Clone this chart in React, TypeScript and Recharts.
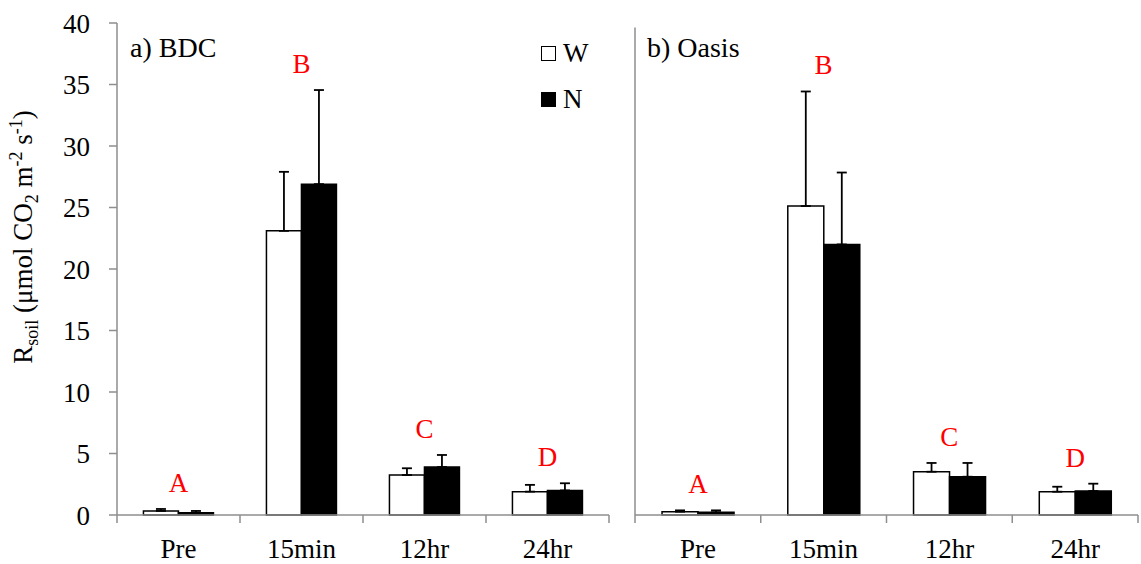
import { BarChart, Bar, XAxis, YAxis, ErrorBar, ReferenceDot, Legend, Label } from 'recharts';

const FONT = '"Liberation Serif", Tinos, "Times New Roman", "DejaVu Serif", serif';
const AXIS = '#8e8e8e';
const RED = '#ff0000';

const categories = ['Pre', '15min', '12hr', '24hr'];
const letters = ['A', 'B', 'C', 'D'];
const seriesNames = ['W', 'N'];
const yTicks = [0, 5, 10, 15, 20, 25, 30, 35, 40];

// a) BDC
const bdcW = [0.33, 23.1, 3.25, 1.9];
const bdcWErr = [0.16, 4.8, 0.55, 0.55];
const bdcN = [0.19, 26.9, 3.9, 2.0];
const bdcNErr = [0.14, 7.65, 0.98, 0.58];

// b) Oasis
const oasisW = [0.27, 25.35, 3.55, 1.91];
const oasisWErr = [0.11, 9.4, 0.72, 0.41];
const oasisN = [0.22, 22.2, 3.14, 1.97];
const oasisNErr = [0.16, 5.9, 1.13, 0.6];

const buildRows = (w: number[], wErr: number[], n: number[], nErr: number[]) =>
  categories.map((cat, i) => ({
    cat,
    letter: letters[i],
    W: w[i],
    N: n[i],
    wErr: [0, wErr[i]],
    nErr: [0, nErr[i]],
    top: Math.max(w[i] + wErr[i], n[i] + nErr[i]),
  }));

const bdcRows = buildRows(bdcW, bdcWErr, bdcN, bdcNErr);
const oasisRows = buildRows(oasisW, oasisWErr, oasisN, oasisNErr);

// category label + tick marks between categories (Excel style)
const CatTick = (props: any) => {
  const { x, y, payload, index, visibleTicksCount } = props;
  const half = payload.offset ?? 0;
  return (
    <g>
      <line x1={x - half} x2={x - half} y1={y} y2={y + 8} stroke={AXIS} strokeWidth={1.5} />
      {index === visibleTicksCount - 1 && (
        <line x1={x + half} x2={x + half} y1={y} y2={y + 8} stroke={AXIS} strokeWidth={1.5} />
      )}
      <text x={x} y={y + 43} textAnchor="middle" fontSize={27} fontFamily={FONT} fill="#000">
        {payload.value}
      </text>
    </g>
  );
};

const YTitle = () => {
  const cx = 32;
  const cy = 237;
  return (
    <text x={cx} y={cy} transform={`rotate(-90, ${cx}, ${cy})`} textAnchor="middle" fontSize={27} fontFamily={FONT} fill="#000">
      R<tspan dy={6} fontSize={18}>soil</tspan>
      <tspan dy={-6}> (μmol CO</tspan>
      <tspan dy={6} fontSize={18}>2</tspan>
      <tspan dy={-6}> m</tspan>
      <tspan dy={-10} fontSize={18}>-2</tspan>
      <tspan dy={10}> s</tspan>
      <tspan dy={-10} fontSize={18}>-1</tspan>
      <tspan dy={10}>)</tspan>
    </text>
  );
};

const renderLegend = (props: any) => {
  const items = [...(props.payload || [])].sort(
    (a: any, b: any) => seriesNames.indexOf(a.value) - seriesNames.indexOf(b.value),
  );
  return (
    <div style={{ fontFamily: FONT, fontSize: 27, color: '#000' }}>
      {items.map((entry: any) => (
        <div key={entry.value} style={{ display: 'flex', alignItems: 'center', height: 46 }}>
          <span
            style={{
              display: 'inline-block',
              width: 13,
              height: 13,
              background: entry.color,
              border: '1.5px solid #000',
              marginRight: 7,
            }}
          />
          <span style={{ lineHeight: '27px' }}>{entry.value}</span>
        </div>
      ))}
    </div>
  );
};

function Panel({
  rows, width, top, right, yAxisWidth, showLabels, legend,
}: {
  rows: ReturnType<typeof buildRows>;
  width: number;
  top: number;
  right: number;
  yAxisWidth: number;
  showLabels: boolean;
  legend?: boolean;
}) {
  return (
    <BarChart
      width={width}
      height={564}
      data={rows}
      margin={{ top, right, bottom: 0, left: 0 }}
      barCategoryGap="21.5%"
      barGap={0}
    >
      <XAxis
        dataKey="cat"
        height={49}
        interval={0}
        tickSize={0}
        tickMargin={0}
        tickLine={false}
        axisLine={{ stroke: AXIS, strokeWidth: 1.5 }}
        tick={<CatTick />}
      />
      <YAxis
        width={yAxisWidth}
        domain={[0, 40]}
        ticks={yTicks}
        interval={0}
        tickSize={8}
        tickMargin={19}
        axisLine={{ stroke: AXIS, strokeWidth: 1.5 }}
        tickLine={{ stroke: AXIS, strokeWidth: 1.5 }}
        tick={showLabels ? { fontSize: 27, fontFamily: FONT, fill: '#000' } : false}
      >
        {showLabels && <Label content={<YTitle />} />}
      </YAxis>
      {legend && (
        <Legend
          layout="vertical"
          align="center"
          verticalAlign="middle"
          content={renderLegend}
          wrapperStyle={{ left: 541, top: 30, width: 60 }}
        />
      )}
      <Bar dataKey="W" name="W" fill="#ffffff" stroke="#000" strokeWidth={1.5} isAnimationActive={false}>
        <ErrorBar dataKey="wErr" width={5} stroke="#000" strokeWidth={1.8} />
      </Bar>
      <Bar dataKey="N" name="N" fill="#000000" stroke="#000" strokeWidth={1.5} isAnimationActive={false}>
        <ErrorBar dataKey="nErr" width={5} stroke="#000" strokeWidth={1.8} />
      </Bar>
      {rows.map((r) => (
        <ReferenceDot
          key={r.cat}
          x={r.cat}
          y={r.top}
          r={0}
          fill="none"
          stroke="none"
          label={{ value: r.letter, position: 'top', offset: 17, fill: RED, fontSize: 27, fontFamily: FONT }}
        />
      ))}
    </BarChart>
  );
}

const titleStyle = {
  position: 'absolute' as const,
  top: 34,
  fontFamily: FONT,
  fontSize: 28,
  lineHeight: '28px',
  color: '#000',
  whiteSpace: 'nowrap' as const,
};

export default function App() {
  return (
    <div style={{ position: 'absolute', left: 0, top: 0, width: 1141, height: 564, background: '#fff', fontFamily: FONT }}>
      <div style={{ position: 'absolute', left: 0, top: 0 }}>
        <Panel rows={bdcRows} width={620} top={23} right={11} yAxisWidth={117} showLabels legend />
      </div>
      <div style={{ position: 'absolute', left: 620, top: 0 }}>
        <Panel rows={oasisRows} width={521} top={27.5} right={3} yAxisWidth={15} showLabels={false} />
      </div>
      <div style={{ ...titleStyle, left: 130 }}>a) BDC</div>
      <div style={{ ...titleStyle, left: 647 }}>b) Oasis</div>
    </div>
  );
}
